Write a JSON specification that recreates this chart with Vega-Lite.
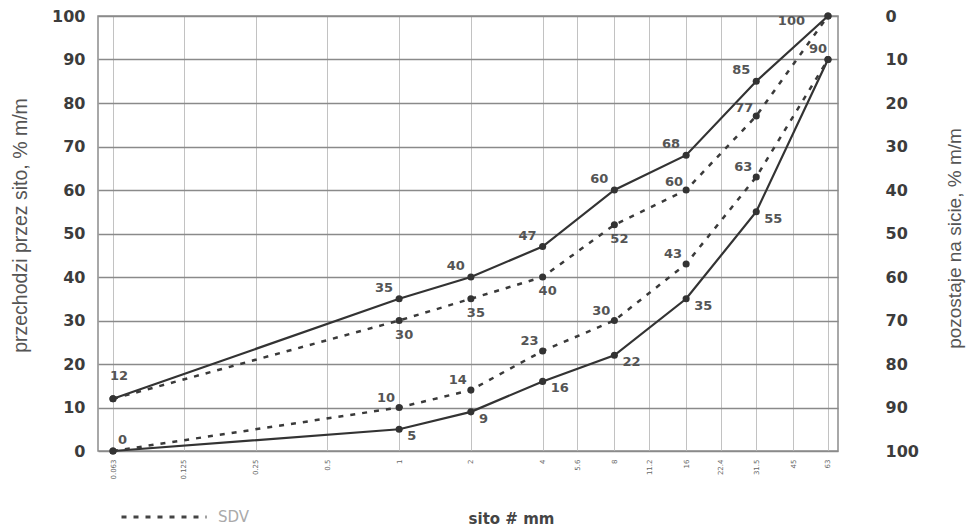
{
  "$schema": "https://vega.github.io/schema/vega-lite/v6.json",
  "width": 740,
  "height": 435,
  "autosize": {"type": "none"},
  "padding": {"left": 98, "top": 16, "right": 133, "bottom": 76},
  "background": "white",
  "config": {
    "view": {"stroke": "#8c8c8c", "strokeWidth": 1.5},
    "font": "DejaVu Sans"
  },
  "data": {
    "values": [
      {"series": "A", "kind": "solid", "size": 0.063, "pass": 12},
      {"series": "A", "kind": "solid", "size": 1, "pass": 35},
      {"series": "A", "kind": "solid", "size": 2, "pass": 40},
      {"series": "A", "kind": "solid", "size": 4, "pass": 47},
      {"series": "A", "kind": "solid", "size": 8, "pass": 60},
      {"series": "A", "kind": "solid", "size": 16, "pass": 68},
      {"series": "A", "kind": "solid", "size": 31.5, "pass": 85},
      {"series": "A", "kind": "solid", "size": 63, "pass": 100},
      {"series": "B", "kind": "solid", "size": 0.063, "pass": 0},
      {"series": "B", "kind": "solid", "size": 1, "pass": 5},
      {"series": "B", "kind": "solid", "size": 2, "pass": 9},
      {"series": "B", "kind": "solid", "size": 4, "pass": 16},
      {"series": "B", "kind": "solid", "size": 8, "pass": 22},
      {"series": "B", "kind": "solid", "size": 16, "pass": 35},
      {"series": "B", "kind": "solid", "size": 31.5, "pass": 55},
      {"series": "B", "kind": "solid", "size": 63, "pass": 90},
      {"series": "C", "kind": "SDV", "size": 0.063, "pass": 12},
      {"series": "C", "kind": "SDV", "size": 1, "pass": 30},
      {"series": "C", "kind": "SDV", "size": 2, "pass": 35},
      {"series": "C", "kind": "SDV", "size": 4, "pass": 40},
      {"series": "C", "kind": "SDV", "size": 8, "pass": 52},
      {"series": "C", "kind": "SDV", "size": 16, "pass": 60},
      {"series": "C", "kind": "SDV", "size": 31.5, "pass": 77},
      {"series": "C", "kind": "SDV", "size": 63, "pass": 100},
      {"series": "D", "kind": "SDV", "size": 0.063, "pass": 0},
      {"series": "D", "kind": "SDV", "size": 1, "pass": 10},
      {"series": "D", "kind": "SDV", "size": 2, "pass": 14},
      {"series": "D", "kind": "SDV", "size": 4, "pass": 23},
      {"series": "D", "kind": "SDV", "size": 8, "pass": 30},
      {"series": "D", "kind": "SDV", "size": 16, "pass": 43},
      {"series": "D", "kind": "SDV", "size": 31.5, "pass": 63},
      {"series": "D", "kind": "SDV", "size": 63, "pass": 90}
    ]
  },
  "encoding": {
    "x": {
      "field": "size",
      "type": "quantitative",
      "scale": {"type": "log", "domain": [0.0545, 69.4], "nice": false},
      "axis": {
        "values": [0.063, 0.125, 0.25, 0.5, 1, 2, 4, 5.6, 8, 11.2, 16, 22.4, 31.5, 45, 63],
        "labelExpr": "'' + datum.value",
        "labelAngle": -90,
        "labelFontSize": 7,
        "labelColor": "#666",
        "labelPadding": 8,
        "labelFlush": false,
        "labelOverlap": false,
        "ticks": false,
        "domain": false,
        "grid": true,
        "gridColor": "#c2c2c2",
        "gridWidth": 1,
        "title": "sito # mm",
        "titleFont": "DejaVu Sans",
        "titleFontSize": 15,
        "titleFontWeight": "bold",
        "titleColor": "#444",
        "titleX": 413,
        "titleY": 72,
        "titleBaseline": "alphabetic"
      }
    },
    "y": {
      "field": "pass",
      "type": "quantitative",
      "scale": {"domain": [0, 100], "nice": false, "zero": true}
    }
  },
  "layer": [
    {
      "transform": [{"filter": "datum.kind == 'solid'"}],
      "mark": {"type": "line", "color": "#333", "strokeWidth": 2.2},
      "encoding": {
        "detail": {"field": "series"},
        "y": {
          "field": "pass",
          "type": "quantitative",
          "axis": {
            "values": [0, 10, 20, 30, 40, 50, 60, 70, 80, 90, 100],
            "labelFont": "DejaVu Sans",
            "labelFontSize": 16,
            "labelFontWeight": "bold",
            "labelColor": "#3c3c3c",
            "labelPadding": 13,
            "labelFlush": false,
            "ticks": false,
            "domain": false,
            "grid": true,
            "gridColor": "#8a8a8a",
            "gridWidth": 1.5,
            "title": "przechodzi przez sito, % m/m",
            "titleFont": "Liberation Sans",
            "titleFontSize": 19.5,
            "titleFontWeight": "normal",
            "titleColor": "#555",
            "titleX": -78,
            "titleY": 209,
            "titleBaseline": "middle",
            "titleAngle": -90
          }
        }
      }
    },
    {
      "transform": [{"filter": "datum.kind == 'SDV'"}],
      "mark": {"type": "line", "stroke": "#3a3a3a", "strokeWidth": 2.5},
      "encoding": {
        "detail": {"field": "series"},
        "y": {"field": "pass", "type": "quantitative", "axis": null},
        "strokeDash": {
          "field": "kind",
          "type": "nominal",
          "scale": {"domain": ["SDV"], "range": [[5, 7]]},
          "legend": {
            "orient": "none",
            "legendX": 12,
            "legendY": 447,
            "title": null,
            "symbolType": "stroke",
            "symbolSize": 7225,
            "symbolStrokeWidth": 3,
            "symbolStrokeColor": "#444",
            "symbolDash": [8, 4],
            "symbolOpacity": 1,
            "labelFont": "DejaVu Sans",
            "labelFontSize": 15,
            "labelColor": "#aaa",
            "labelOffset": 10,
            "padding": 10
          }
        }
      }
    },
    {
      "mark": {"type": "point", "filled": true, "size": 50, "color": "#333", "opacity": 1},
      "encoding": {"y": {"field": "pass", "type": "quantitative", "axis": null}}
    },
    {
      "transform": [{"filter": "datum.series == 'A' && datum.size > 0.1 && datum.size < 60"}],
      "mark": {"type": "text", "align": "right", "baseline": "middle", "dx": -6, "dy": -11, "font": "DejaVu Sans", "fontWeight": "bold", "fontSize": 13, "color": "#555"},
      "encoding": {"text": {"field": "pass"}, "y": {"field": "pass", "type": "quantitative", "axis": null}}
    },
    {
      "transform": [{"filter": "datum.series == 'A' && datum.size < 0.1"}],
      "mark": {"type": "text", "align": "center", "baseline": "middle", "dx": 6, "dy": -23, "font": "DejaVu Sans", "fontWeight": "bold", "fontSize": 13, "color": "#555"},
      "encoding": {"text": {"field": "pass"}, "y": {"field": "pass", "type": "quantitative", "axis": null}}
    },
    {
      "transform": [{"filter": "datum.series == 'A' && datum.size > 60"}],
      "mark": {"type": "text", "align": "right", "baseline": "middle", "dx": -23, "dy": 5, "font": "DejaVu Sans", "fontWeight": "bold", "fontSize": 13, "color": "#555"},
      "encoding": {"text": {"field": "pass"}, "y": {"field": "pass", "type": "quantitative", "axis": null}}
    },
    {
      "transform": [{"filter": "datum.series == 'B' && datum.size > 0.1 && datum.size < 60"}],
      "mark": {"type": "text", "align": "left", "baseline": "middle", "dx": 8, "dy": 7, "font": "DejaVu Sans", "fontWeight": "bold", "fontSize": 13, "color": "#555"},
      "encoding": {"text": {"field": "pass"}, "y": {"field": "pass", "type": "quantitative", "axis": null}}
    },
    {
      "transform": [{"filter": "datum.series == 'B' && datum.size < 0.1"}],
      "mark": {"type": "text", "align": "left", "baseline": "middle", "dx": 5, "dy": -11, "font": "DejaVu Sans", "fontWeight": "bold", "fontSize": 13, "color": "#555"},
      "encoding": {"text": {"field": "pass"}, "y": {"field": "pass", "type": "quantitative", "axis": null}}
    },
    {
      "transform": [{"filter": "datum.series == 'B' && datum.size > 60"}],
      "mark": {"type": "text", "align": "right", "baseline": "middle", "dx": -1, "dy": -11, "font": "DejaVu Sans", "fontWeight": "bold", "fontSize": 13, "color": "#555"},
      "encoding": {"text": {"field": "pass"}, "y": {"field": "pass", "type": "quantitative", "axis": null}}
    },
    {
      "transform": [{"filter": "datum.series == 'C' && datum.size > 0.1 && datum.size < 10"}],
      "mark": {"type": "text", "align": "center", "baseline": "middle", "dx": 5, "dy": 14, "font": "DejaVu Sans", "fontWeight": "bold", "fontSize": 13, "color": "#555"},
      "encoding": {"text": {"field": "pass"}, "y": {"field": "pass", "type": "quantitative", "axis": null}}
    },
    {
      "transform": [{"filter": "datum.series == 'C' && datum.size > 10 && datum.size < 60"}],
      "mark": {"type": "text", "align": "right", "baseline": "middle", "dx": -3, "dy": -8, "font": "DejaVu Sans", "fontWeight": "bold", "fontSize": 13, "color": "#555"},
      "encoding": {"text": {"field": "pass"}, "y": {"field": "pass", "type": "quantitative", "axis": null}}
    },
    {
      "transform": [{"filter": "datum.series == 'D' && datum.size > 0.1 && datum.size < 60"}],
      "mark": {"type": "text", "align": "right", "baseline": "middle", "dx": -4, "dy": -10, "font": "DejaVu Sans", "fontWeight": "bold", "fontSize": 13, "color": "#555"},
      "encoding": {
        "text": {"field": "pass"},
        "y": {
          "field": "pass",
          "type": "quantitative",
          "axis": {
            "orient": "right",
            "values": [0, 10, 20, 30, 40, 50, 60, 70, 80, 90, 100],
            "labelExpr": "'' + (100 - datum.value)",
            "labelFont": "DejaVu Sans",
            "labelFontSize": 16,
            "labelFontWeight": "bold",
            "labelColor": "#3c3c3c",
            "labelAlign": "left",
            "labelPadding": 47,
            "labelFlush": false,
            "ticks": false,
            "domain": false,
            "grid": false,
            "title": "pozostaje na sicie, % m/m",
            "titleFont": "Liberation Sans",
            "titleFontSize": 19,
            "titleFontWeight": "normal",
            "titleColor": "#555",
            "titleX": 116,
            "titleY": 222,
            "titleBaseline": "middle",
            "titleAngle": -90
          }
        }
      }
    }
  ],
  "resolve": {"scale": {"y": "shared"}, "axis": {"y": "independent"}}
}
